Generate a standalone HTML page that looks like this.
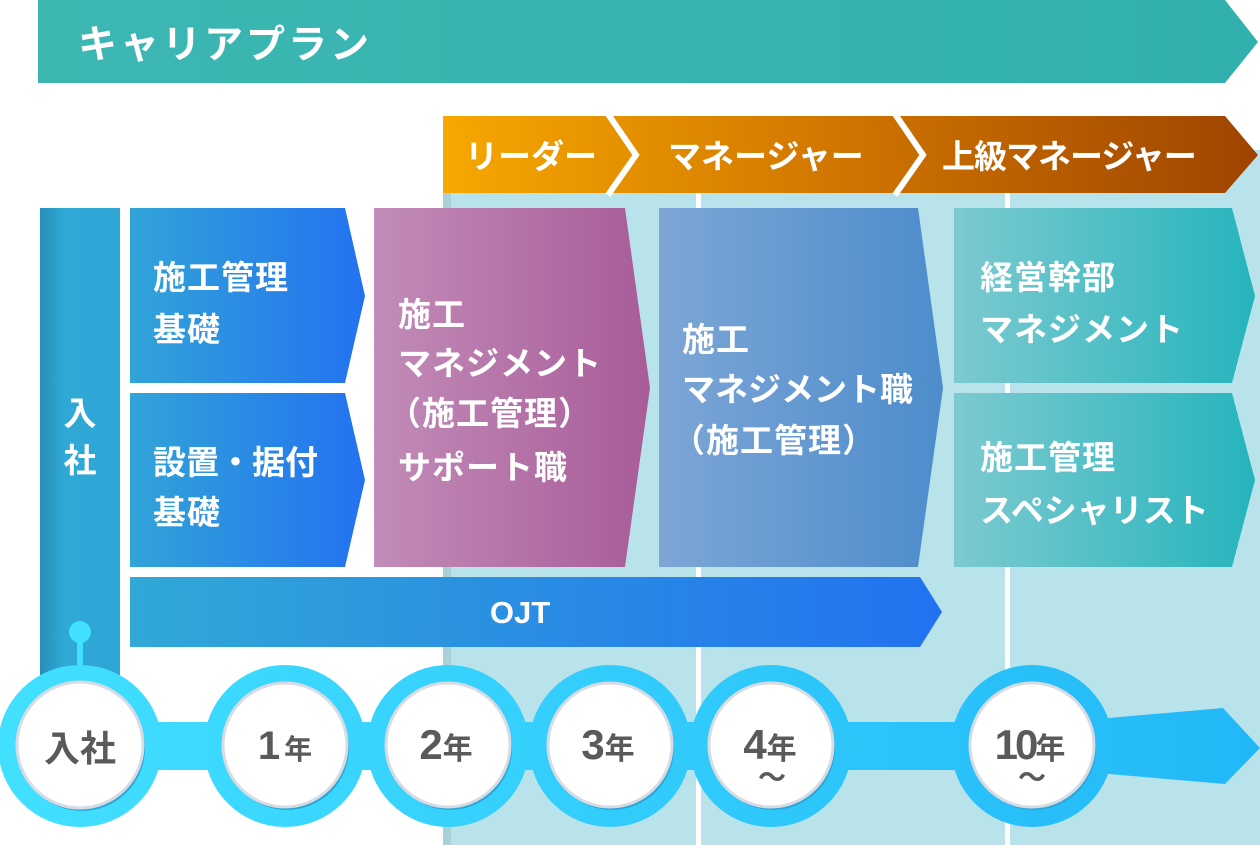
<!DOCTYPE html>
<html><head><meta charset="utf-8"><style>
html,body{margin:0;padding:0;background:#fff;}
svg{display:block;}
text{font-family:"Liberation Sans","Noto Sans CJK JP",sans-serif;font-weight:bold;}
</style></head><body>
<svg width="1260" height="845" viewBox="0 0 1260 845" xmlns="http://www.w3.org/2000/svg">
<defs>
<linearGradient id="top" x1="0" x2="1"><stop offset="0" stop-color="#3cb7b2"/><stop offset="1" stop-color="#32b0ad"/></linearGradient>
<linearGradient id="org" x1="0" x2="1"><stop offset="0" stop-color="#f7a800"/><stop offset="0.5" stop-color="#cf7400"/><stop offset="1" stop-color="#9e4400"/></linearGradient>
<linearGradient id="blue" x1="0" x2="1"><stop offset="0" stop-color="#31a4d8"/><stop offset="1" stop-color="#2372f0"/></linearGradient>
<linearGradient id="ojt" x1="0" x2="1"><stop offset="0" stop-color="#31a8d6"/><stop offset="1" stop-color="#2272f0"/></linearGradient>
<linearGradient id="pur" x1="0" x2="1"><stop offset="0" stop-color="#c28cb8"/><stop offset="1" stop-color="#a85c98"/></linearGradient>
<linearGradient id="mb" x1="0" x2="1"><stop offset="0" stop-color="#7da6d6"/><stop offset="1" stop-color="#4d8ccc"/></linearGradient>
<linearGradient id="tl" x1="0" x2="1"><stop offset="0" stop-color="#7ccad0"/><stop offset="1" stop-color="#26b4bc"/></linearGradient>
<linearGradient id="vb" x1="0" x2="1"><stop offset="0" stop-color="#2690b8"/><stop offset="0.3" stop-color="#30a8d6"/><stop offset="1" stop-color="#2da6d5"/></linearGradient>
<linearGradient id="line" gradientUnits="userSpaceOnUse" x1="0" y1="0" x2="1260" y2="0"><stop offset="0" stop-color="#42e0ff"/><stop offset="1" stop-color="#22b8f8"/></linearGradient>
</defs>
<rect x="443" y="150" width="817" height="695" fill="#b9e3ea"/>
<rect x="443" y="150" width="8" height="695" fill="#9cc6cc" opacity="0.6"/>
<rect x="696" y="193" width="5" height="652" fill="#fff"/>
<rect x="1005" y="193" width="5" height="652" fill="#fff"/>
<polygon points="38,0 1225,0 1258,42 1225,83 38,83" fill="url(#top)"/>
<text x="78" y="58" font-size="39" letter-spacing="3" fill="#fff">キャリアプラン</text>
<polygon points="443,116 1225,116 1258,155 1225,193 443,193" fill="url(#org)"/>
<polyline points="608,114 636,155 608,195" fill="none" stroke="#fff" stroke-width="6"/>
<polyline points="895,114 923,155 895,195" fill="none" stroke="#fff" stroke-width="6"/>
<text x="465" y="168" font-size="33" fill="#fff">リーダー</text>
<text x="668" y="168" font-size="33" fill="#fff">マネージャー</text>
<text x="942" y="168" font-size="33" letter-spacing="-1" fill="#fff">上級マネージャー</text>
<rect x="40" y="208" width="80" height="480" fill="url(#vb)"/>
<text x="80" y="425" font-size="33" fill="#fff" text-anchor="middle">入</text>
<text x="80" y="472" font-size="33" fill="#fff" text-anchor="middle">社</text>
<g font-size="33" fill="#fff" letter-spacing="1">
<polygon points="130,208 345,208 365,296 345,383 130,383" fill="url(#blue)"/>
<polygon points="130,393 345,393 365,480 345,567 130,567" fill="url(#blue)"/>
<text x="153" y="289">施工管理</text>
<text x="153" y="341">基礎</text>
<text x="153" y="474" letter-spacing="0">設置・据付</text>
<text x="153" y="524">基礎</text>
<polygon points="374,208 625,208 650,388 625,567 374,567" fill="url(#pur)"/>
<text x="398" y="326">施工</text>
<text x="398" y="375">マネジメント</text>
<text x="388" y="425">（施工管理）</text>
<text x="398" y="479">サポート職</text>
<polygon points="659,208 918,208 943,388 918,567 659,567" fill="url(#mb)"/>
<text x="682" y="351">施工</text>
<text x="682" y="401" letter-spacing="0">マネジメント職</text>
<text x="672" y="452">（施工管理）</text>
<polygon points="954,208 1232,208 1255,296 1232,383 954,383" fill="url(#tl)"/>
<polygon points="954,393 1232,393 1255,480 1232,567 954,567" fill="url(#tl)"/>
<text x="980" y="289">経営幹部</text>
<text x="980" y="341">マネジメント</text>
<text x="980" y="469">施工管理</text>
<text x="980" y="522" letter-spacing="0">スペシャリスト</text>
</g>
<polygon points="130,577 920,577 942,612 920,647 130,647" fill="url(#ojt)"/>
<text x="520" y="623" font-size="31" fill="#fff" text-anchor="middle">OJT</text>
<circle cx="80" cy="632" r="11" fill="#42e0ff"/>
<rect x="77" y="632" width="6" height="40" fill="#42e0ff"/>
<g fill="url(#line)">
<rect x="60" y="722" width="1170" height="48"/>
<polygon points="1085,720 1223,708 1260,748 1225,784 1085,772"/>
<ellipse cx="80" cy="746" rx="82" ry="81"/>
<circle cx="285" cy="746" r="81"/>
<circle cx="448" cy="746" r="81"/>
<circle cx="610" cy="746" r="81"/>
<circle cx="771" cy="746" r="81"/>
<circle cx="1032" cy="746" r="81"/>
</g>
<g fill="#fff" stroke="#d8dbe3" stroke-width="3">
<circle cx="82" cy="748" r="63" fill="#2aa8d8" stroke="none"/>
<circle cx="80" cy="745" r="63"/>
<circle cx="287" cy="748" r="62" fill="#2aa8d8" stroke="none"/>
<circle cx="285" cy="745" r="62"/>
<circle cx="450" cy="748" r="62" fill="#2aa8d8" stroke="none"/>
<circle cx="448" cy="745" r="62"/>
<circle cx="612" cy="748" r="62" fill="#2aa8d8" stroke="none"/>
<circle cx="610" cy="745" r="62"/>
<circle cx="773" cy="748" r="62" fill="#2aa8d8" stroke="none"/>
<circle cx="771" cy="745" r="62"/>
<circle cx="1034" cy="748" r="62" fill="#2aa8d8" stroke="none"/>
<circle cx="1032" cy="745" r="62"/>
</g>
<g fill="#5a5a5a">
<text x="80" y="761" font-size="36" text-anchor="middle">入社</text>
<text x="285" y="759" font-size="40" text-anchor="middle" letter-spacing="4">1<tspan font-size="28" letter-spacing="0">年</tspan></text>
<text x="446" y="759" font-size="42" text-anchor="middle">2<tspan font-size="30">年</tspan></text>
<text x="608" y="759" font-size="42" text-anchor="middle">3<tspan font-size="30">年</tspan></text>
<text x="770" y="759" font-size="42" text-anchor="middle">4<tspan font-size="30">年</tspan></text>
<text x="772" y="787" font-size="28" text-anchor="middle">～</text>
<text x="1030" y="759" font-size="42" text-anchor="middle" letter-spacing="-3">10<tspan font-size="30" letter-spacing="0">年</tspan></text>
<text x="1032" y="787" font-size="28" text-anchor="middle">～</text>
</g>
</svg>
</body></html>
